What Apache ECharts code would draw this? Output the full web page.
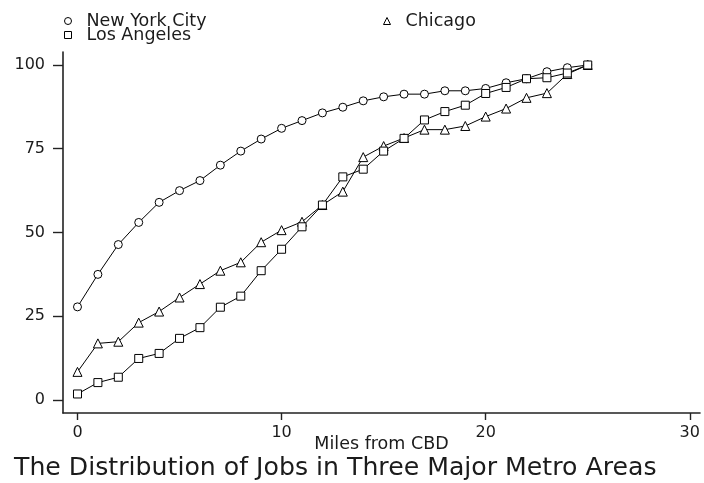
<!DOCTYPE html>
<html>
<head>
<meta charset="utf-8">
<script src="https://cdn.jsdelivr.net/npm/echarts@6/dist/echarts.min.js"></script>
<style>
  html, body { margin: 0; padding: 0; background: #fff; }
  #chart { width: 704px; height: 483px; }
</style>
</head>
<body>
<div id="chart"></div>
<script>
// Cumulative share of metro-area jobs (%) by distance from the CBD (miles)
const miles = [0, 1, 2, 3, 4, 5, 6, 7, 8, 9, 10, 11, 12, 13, 14, 15, 16, 17, 18, 19, 20, 21, 22, 23, 24, 25];
const newYorkCity = [27.8, 37.5, 46.4, 53.0, 59.0, 62.5, 65.5, 70.1, 74.3, 77.9, 81.1, 83.4, 85.7, 87.4, 89.3, 90.5, 91.3, 91.3, 92.3, 92.3, 93.0, 94.7, 95.9, 98.0, 99.2, 100];
const chicago = [8.4, 16.9, 17.4, 23.1, 26.4, 30.6, 34.6, 38.6, 41.1, 47.1, 50.7, 53.2, 58.2, 62.2, 72.5, 75.8, 78.2, 80.7, 80.7, 81.8, 84.6, 87.0, 90.2, 91.6, 97.3, 100];
const losAngeles = [1.8, 5.2, 6.8, 12.4, 13.9, 18.4, 21.6, 27.7, 31.0, 38.6, 45.0, 51.7, 58.2, 66.6, 68.9, 74.3, 78.1, 83.6, 86.1, 88.0, 91.5, 93.3, 95.9, 96.2, 97.6, 100];
const xTicks = [0, 10, 20, 30];
const yTicks = [0, 25, 50, 75, 100];

const FONT = 'DejaVu Sans';
const INK = '#1b1b1b';

function pairs(values) {
  return miles.map((m, i) => [m, values[i]]);
}

function citySeries(name, values, symbol, size) {
  return {
    name: name,
    type: 'line',
    data: pairs(values),
    symbol: symbol,
    symbolSize: size,
    showAllSymbol: true,
    lineStyle: { color: '#000', width: 1 },
    itemStyle: { color: '#fff', borderColor: '#000', borderWidth: 1 },
    emphasis: { disabled: true }
  };
}

// Small square-boxed legend icons, label pushed right by a text padding
const legendBase = {
  orient: 'horizontal',
  padding: 0,
  itemWidth: 7,
  itemHeight: 7,
  selectedMode: false,
  textStyle: { fontFamily: FONT, fontSize: 17.5, color: INK, padding: [0, 0, 0, 10] },
  itemStyle: { color: '#fff', borderColor: '#000', borderWidth: 1 }
};

const chart = echarts.init(document.getElementById('chart'), null, { renderer: 'canvas' });
chart.setOption({
  animation: false,
  backgroundColor: '#fff',
  title: {
    text: 'The Distribution of Jobs in Three Major Metro Areas',
    left: 14,
    top: 456,
    padding: 0,
    textStyle: { fontFamily: FONT, fontSize: 25.2, fontWeight: 'normal', color: INK }
  },
  legend: [
    Object.assign({}, legendBase, { left: 64, top: 12, data: [{ name: 'New York City', icon: 'circle' }] }),
    Object.assign({}, legendBase, { left: 383, top: 12, data: [{ name: 'Chicago', icon: 'triangle' }] }),
    Object.assign({}, legendBase, { left: 64, top: 26, data: [{ name: 'Los Angeles', icon: 'rect' }] })
  ],
  grid: { left: 63, top: 52, width: 637, height: 361, containLabel: false },
  xAxis: {
    type: 'value',
    min: -0.71,
    max: 30.5,
    name: 'Miles from CBD',
    nameLocation: 'middle',
    nameGap: 22,
    nameMoveOverlap: false,
    nameTextStyle: { fontFamily: FONT, fontSize: 17.5, color: INK },
    axisLine: { show: true, onZero: false, lineStyle: { color: '#222', width: 1.6 } },
    axisTick: { show: true, length: 7, customValues: xTicks, lineStyle: { color: '#222', width: 1.4 } },
    axisLabel: { customValues: xTicks, margin: 12, fontFamily: FONT, fontSize: 16, color: INK },
    splitLine: { show: false }
  },
  yAxis: {
    type: 'value',
    min: -3.88,
    max: 103.88,
    axisLine: { show: true, onZero: false, lineStyle: { color: '#222', width: 1.6 } },
    axisTick: { show: true, length: 10, customValues: yTicks, lineStyle: { color: '#222', width: 1.4 } },
    axisLabel: { customValues: yTicks, margin: 18, fontFamily: FONT, fontSize: 16, color: INK },
    splitLine: { show: false }
  },
  series: [
    citySeries('New York City', newYorkCity, 'circle', 8),
    citySeries('Chicago', chicago, 'triangle', 9),
    citySeries('Los Angeles', losAngeles, 'rect', 8)
  ]
});
</script>
</body>
</html>
